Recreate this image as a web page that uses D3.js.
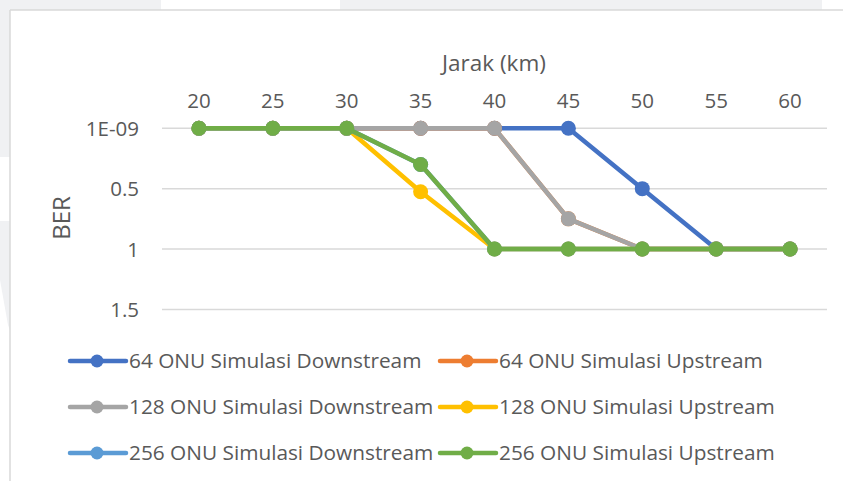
<!DOCTYPE html>
<html><head><meta charset="utf-8">
<script src="https://cdn.jsdelivr.net/npm/d3@7"></script>
<style>body{margin:0;background:#fff}svg{display:block}</style>
</head><body>
<svg id="c" width="843" height="481"></svg>
<script>
const categories = [20, 25, 30, 35, 40, 45, 50, 55, 60];
const yTickValues = [0, 0.5, 1, 1.5];
const yTickLabels = ["1E-09", "0.5", "1", "1.5"];
const xTitle = "Jarak (km)";
const yTitle = "BER";
const seriesNames = [
  "64 ONU Simulasi Downstream", "64 ONU Simulasi Upstream",
  "128 ONU Simulasi Downstream", "128 ONU Simulasi Upstream",
  "256 ONU Simulasi Downstream", "256 ONU Simulasi Upstream"
];
const s64Down  = [0, 0, 0, 0, 0, 0, 0.5, 1, 1];
const s64Up    = [0, 0, 0, 0, 0, 0.75, 1, 1, 1];
const s128Down = [0, 0, 0, 0, 0, 0.75, 1, 1, 1];
const s128Up   = [0, 0, 0, 0.525, 1, 1, 1, 1, 1];
const s256Down = [0, 0, 0, 0.3, 1, 1, 1, 1, 1];
const s256Up   = [0, 0, 0, 0.3, 1, 1, 1, 1, 1];
const seriesValues = [s64Down, s64Up, s128Down, s128Up, s256Down, s256Up];
const colors = ["#4472C4", "#ED7D31", "#A5A5A5", "#FFC000", "#5B9BD5", "#70AD47"];

(function () {
const svg = d3.select("#c");
const font = "'Open Sans', sans-serif";
const txt = "#595959";

// page background pieces
svg.append("rect").attr("width", 843).attr("height", 481).attr("fill", "#ffffff");
svg.append("rect").attr("x", 0).attr("y", 0).attr("width", 161).attr("height", 10).attr("fill", "#f0f1f3");
svg.append("rect").attr("x", 340).attr("y", 0).attr("width", 482).attr("height", 10).attr("fill", "#f0f1f3");
svg.append("rect").attr("x", 0).attr("y", 0).attr("width", 10).attr("height", 157).attr("fill", "#f0f1f3");
svg.append("path").attr("d", "M0,221 L10,221 L10,330 L8,325 L0,280 Z").attr("fill", "#f0f1f3");
svg.append("line").attr("x1", 10).attr("x2", 843).attr("y1", 10).attr("y2", 10).attr("stroke", "#d9d9d9").attr("stroke-width", 1.5);
svg.append("line").attr("x1", 10).attr("x2", 10).attr("y1", 10).attr("y2", 481).attr("stroke", "#d9d9d9").attr("stroke-width", 1.5);

const pl = 162, pr = 827, pt = 128.3, pb = 309.4;
const xBand = d3.scaleBand().domain(categories).range([pl, pr]);
const x = d => xBand(d) + xBand.bandwidth() / 2;
const y = d3.scaleLinear().domain([0, 1.5]).range([pt, pb]);

// gridlines
svg.append("g").selectAll("line").data(yTickValues).join("line")
  .attr("x1", pl).attr("x2", pr)
  .attr("y1", d => y(d)).attr("y2", d => y(d))
  .attr("stroke", "#d9d9d9").attr("stroke-width", 1.5);

// y axis labels
const yAxis = d3.axisLeft(y).tickValues(yTickValues).tickFormat((d, i) => yTickLabels[i]).tickSize(0).tickPadding(0);
const gy = svg.append("g").attr("transform", `translate(139,0)`).call(yAxis);
gy.select(".domain").remove();
gy.selectAll("text").attr("font-family", font).attr("font-size", 20.5).attr("fill", txt).attr("dy", "0.35em");

// x axis labels on top
const xAxis = d3.axisTop(xBand).tickSize(0).tickPadding(0);
const gx = svg.append("g").attr("transform", `translate(0,108)`).call(xAxis);
gx.select(".domain").remove();
gx.selectAll("text").attr("font-family", font).attr("font-size", 20.5).attr("fill", txt).attr("dy", 0);

// titles
svg.append("text").attr("x", 494).attr("y", 71).attr("text-anchor", "middle")
  .attr("font-family", font).attr("font-size", 22.5).attr("fill", txt).text(xTitle);
svg.append("text").attr("transform", "translate(70,218) rotate(-90)").attr("text-anchor", "middle")
  .attr("font-family", font).attr("font-size", 24).attr("fill", txt).text(yTitle);

// series
const line = d3.line().x((d, i) => x(categories[i])).y(d => y(d));
seriesValues.forEach((vals, k) => {
  const g = svg.append("g");
  g.append("path").datum(vals).attr("d", line).attr("fill", "none")
    .attr("stroke", colors[k]).attr("stroke-width", 4.5).attr("stroke-linejoin", "round").attr("stroke-linecap", "round");
  g.selectAll("circle").data(vals).join("circle")
    .attr("cx", (d, i) => x(categories[i])).attr("cy", d => y(d)).attr("r", 7.5).attr("fill", colors[k]);
});

// legend
const legX = [70, 440], legY = [361, 407, 453];
seriesNames.forEach((name, k) => {
  const lx = legX[k % 2], ly = legY[Math.floor(k / 2)];
  const g = svg.append("g").attr("transform", `translate(${lx},${ly})`);
  g.append("line").attr("x1", 0).attr("x2", 56).attr("y1", 0).attr("y2", 0)
    .attr("stroke", colors[k]).attr("stroke-width", 4.5).attr("stroke-linecap", "round");
  g.append("circle").attr("cx", 27).attr("cy", 0).attr("r", 6.5).attr("fill", colors[k]);
  g.append("text").attr("x", 59).attr("y", 0).attr("dy", "0.35em")
    .attr("font-family", font).attr("font-size", 20.8).attr("fill", txt).text(name);
});
})();
</script>
</body></html>
